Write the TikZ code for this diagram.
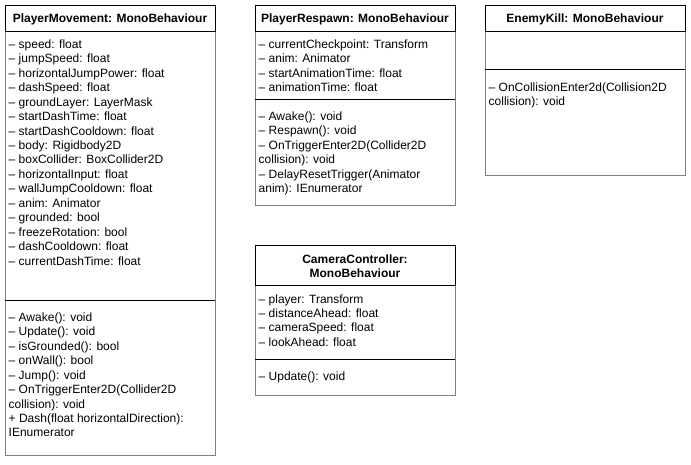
\documentclass[tikz,border=0pt]{standalone}
\usepackage{fontspec}
\setmainfont{Liberation Sans}
\begin{document}
\begin{tikzpicture}[x=1pt,y=-1pt,
  hdr/.style={draw=black, line width=1pt, fill=white},
  bodybox/.style={draw=gray, line width=1pt},
  divider/.style={draw=black, line width=1pt},
  txt/.style={anchor=base west, inner sep=0pt, font=\fontsize{12}{14.5}\selectfont},
  title/.style={anchor=base, inner sep=0pt, font=\bfseries\fontsize{12}{14.5}\selectfont}]
\useasboundingbox[fill=white] (0,0) rectangle (691,464);

% ---------- PlayerMovement ----------
\draw[bodybox] (5,31) rectangle (215,455);
\draw[hdr] (5,5) rectangle (215,31);
\draw[divider] (5,300) -- (215,300);
\node[title] (pmt) at (110,22.3) {PlayerMovement: MonoBehaviour};
\foreach \t [count=\i] in {
  {– speed: float},
  {– jumpSpeed: float},
  {– horizontalJumpPower: float},
  {– dashSpeed: float},
  {– groundLayer: LayerMask},
  {– startDashTime: float},
  {– startDashCooldown: float},
  {– body: Rigidbody2D},
  {– boxCollider: BoxCollider2D},
  {– horizontalInput: float},
  {– wallJumpCooldown: float},
  {– anim: Animator},
  {– grounded: bool},
  {– freezeRotation: bool},
  {– dashCooldown: float},
  {– currentDashTime: float}}
  \node[txt] (pma\i) at (8.5,{48.3+14.46*(\i-1)}) {\t};
\foreach \t [count=\i] in {
  {– Awake(): void},
  {– Update(): void},
  {– isGrounded(): bool},
  {– onWall(): bool},
  {– Jump(): void},
  {– OnTriggerEnter2D(Collider2D},
  {collision): void},
  {+ Dash(float horizontalDirection):},
  {IEnumerator}}
  \node[txt] (pmm\i) at (8.5,{321.3+14.46*(\i-1)}) {\t};

% ---------- PlayerRespawn ----------
\draw[bodybox] (255,31) rectangle (455,205);
\draw[hdr] (255,5) rectangle (455,31);
\draw[divider] (255,99) -- (455,99);
\node[title] (prt) at (355,22.3) {PlayerRespawn: MonoBehaviour};
\foreach \t [count=\i] in {
  {– currentCheckpoint: Transform},
  {– anim: Animator},
  {– startAnimationTime: float},
  {– animationTime: float}}
  \node[txt] (pra\i) at (258.5,{48.3+14.46*(\i-1)}) {\t};
\foreach \t [count=\i] in {
  {– Awake(): void},
  {– Respawn(): void},
  {– OnTriggerEnter2D(Collider2D},
  {collision): void},
  {– DelayResetTrigger(Animator},
  {anim): IEnumerator}}
  \node[txt] (prm\i) at (258.5,{120.5+14.46*(\i-1)}) {\t};

% ---------- CameraController ----------
\draw[bodybox] (255,285) rectangle (455,395);
\draw[hdr] (255,245) rectangle (455,285);
\draw[divider] (255,359) -- (455,359);
\node[title] (cct1) at (355,263.8) {CameraController:};
\node[title] (cct2) at (355,277.6) {MonoBehaviour};
\foreach \t [count=\i] in {
  {– player: Transform},
  {– distanceAhead: float},
  {– cameraSpeed: float},
  {– lookAhead: float}}
  \node[txt] (cca\i) at (258.5,{303.5+14.2*(\i-1)}) {\t};
\node[txt] (ccm1) at (258.5,380.8) {– Update(): void};

% ---------- EnemyKill ----------
\draw[bodybox] (485,31) rectangle (685,175);
\draw[hdr] (485,5) rectangle (685,31);
\draw[divider] (485,69) -- (685,69);
\node[title] (ekt) at (585,22.3) {EnemyKill: MonoBehaviour};
\node[txt] (ekm1) at (488.5,91.3) {– OnCollisionEnter2d(Collision2D};
\node[txt] (ekm2) at (488.5,105.2) {collision): void};
\end{tikzpicture}
\end{document}
